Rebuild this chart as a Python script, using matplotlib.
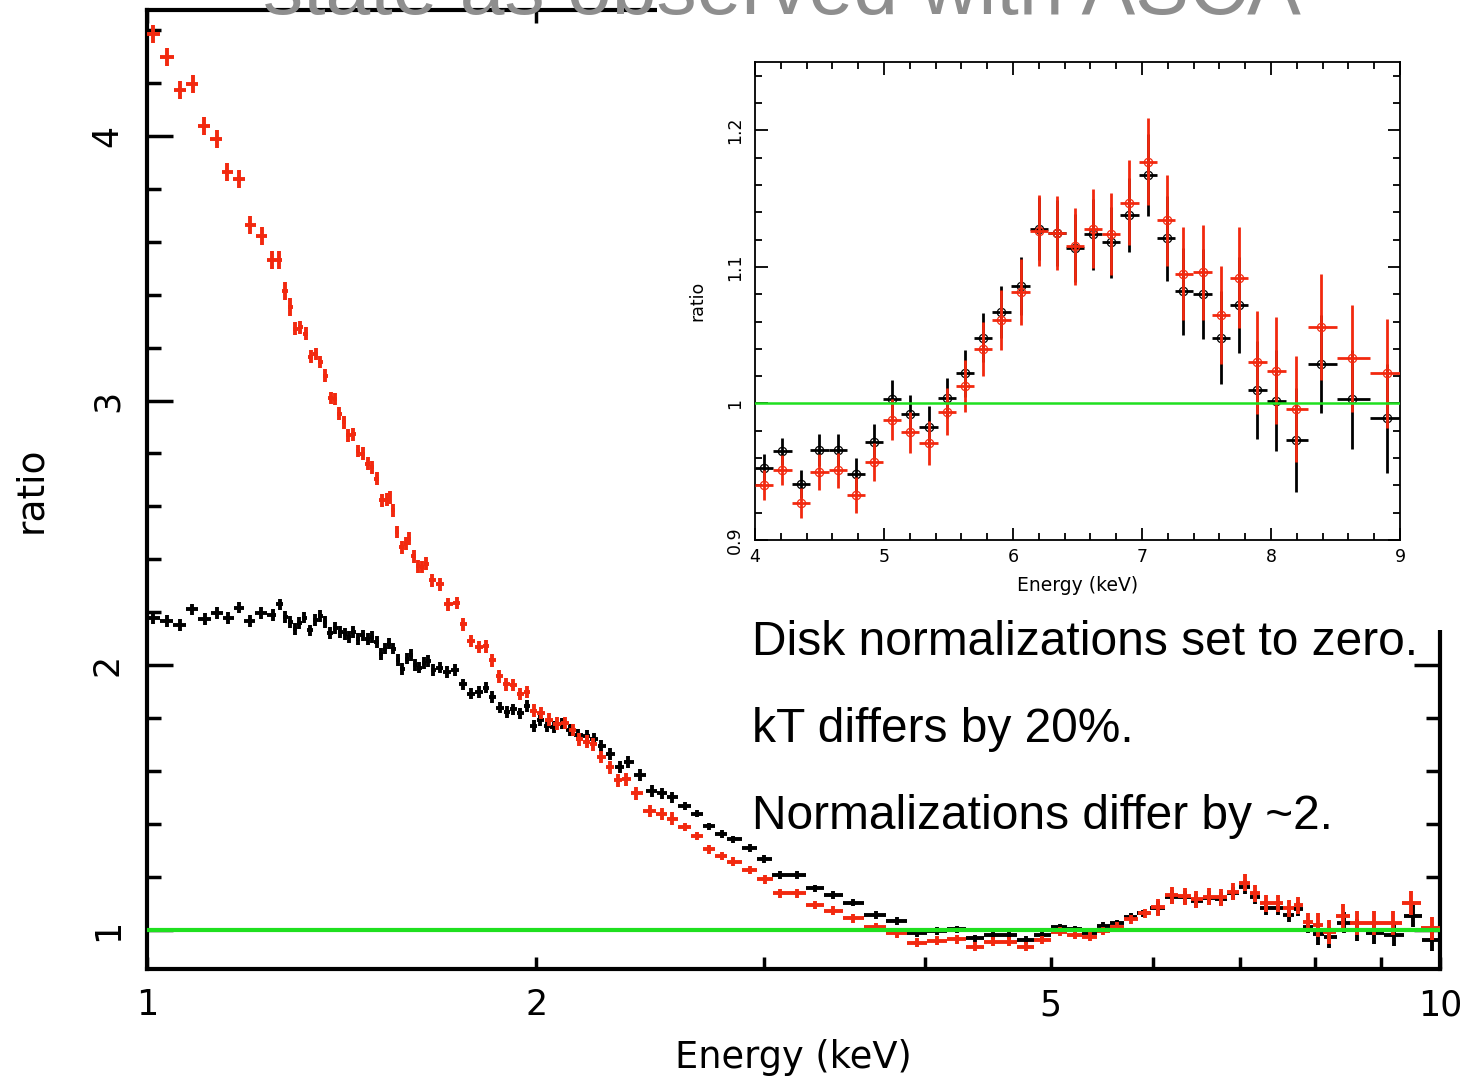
import numpy as np
import matplotlib
matplotlib.use("Agg")
import matplotlib.pyplot as plt
from matplotlib.patches import Rectangle
from matplotlib.ticker import MultipleLocator, NullFormatter, FixedLocator

# ---- main panel: data/model ratio, two states ----
black_energy = [
    1.011, 1.036, 1.060, 1.083, 1.109, 1.132, 1.156, 1.178, 1.201, 1.224,
    1.251, 1.267, 1.279, 1.291, 1.301, 1.312, 1.322, 1.337, 1.349, 1.361,
    1.373, 1.385, 1.398, 1.410, 1.423, 1.434, 1.444, 1.457, 1.468, 1.481,
    1.494, 1.505, 1.516, 1.528, 1.539, 1.550, 1.564, 1.576, 1.588, 1.599,
    1.611, 1.624, 1.637, 1.650, 1.664, 1.684, 1.707, 1.730, 1.755, 1.782,
    1.807, 1.829, 1.850, 1.875, 1.900, 1.920, 1.944, 1.967, 1.991, 2.015,
    2.039, 2.063, 2.093, 2.125, 2.156, 2.188, 2.216, 2.246, 2.282, 2.321,
    2.356, 2.405, 2.458, 2.500, 2.546, 2.606, 2.661, 2.722, 2.782, 2.841,
    2.926, 3.000, 3.089, 3.183, 3.284, 3.393, 3.517, 3.660, 3.804, 3.941,
    4.080, 4.230, 4.370, 4.510, 4.640, 4.780, 4.920, 5.080, 5.220, 5.360,
    5.490, 5.630, 5.770, 5.890, 6.050, 6.200, 6.350, 6.480, 6.630, 6.770,
    6.920, 7.060, 7.190, 7.330, 7.490, 7.640, 7.770, 7.910, 8.050, 8.210,
    8.430, 8.630, 8.890, 9.220, 9.530, 9.850]
black_ratio = [
    2.177, 2.167, 2.151, 2.211, 2.174, 2.197, 2.179, 2.218, 2.167, 2.197,
    2.191, 2.230, 2.182, 2.163, 2.138, 2.160, 2.180, 2.132, 2.172, 2.185,
    2.163, 2.123, 2.142, 2.126, 2.117, 2.107, 2.126, 2.100, 2.113, 2.100,
    2.107, 2.088, 2.042, 2.063, 2.082, 2.063, 2.019, 1.987, 2.025, 2.038,
    2.000, 1.991, 2.008, 2.016, 1.981, 1.991, 1.975, 1.981, 1.928, 1.893,
    1.899, 1.916, 1.881, 1.840, 1.824, 1.833, 1.818, 1.845, 1.770, 1.792,
    1.770, 1.767, 1.780, 1.755, 1.736, 1.732, 1.723, 1.694, 1.664, 1.616,
    1.635, 1.585, 1.526, 1.516, 1.501, 1.468, 1.440, 1.392, 1.362, 1.342,
    1.310, 1.268, 1.208, 1.208, 1.157, 1.132, 1.103, 1.057, 1.034, 0.987,
    0.997, 1.003, 0.969, 0.981, 0.981, 0.962, 0.981, 1.010, 1.003, 0.987,
    1.015, 1.025, 1.050, 1.063, 1.082, 1.126, 1.123, 1.111, 1.120, 1.116,
    1.138, 1.163, 1.123, 1.082, 1.082, 1.057, 1.078, 1.013, 0.985, 0.972,
    1.028, 1.000, 0.987, 0.981, 1.053, 0.962]

red_energy = [
    1.011, 1.037, 1.060, 1.085, 1.107, 1.132, 1.154, 1.179, 1.201, 1.227,
    1.249, 1.266, 1.279, 1.291, 1.301, 1.314, 1.327, 1.339, 1.350, 1.362,
    1.374, 1.387, 1.398, 1.408, 1.420, 1.431, 1.444, 1.457, 1.468, 1.481,
    1.494, 1.505, 1.519, 1.532, 1.541, 1.550, 1.561, 1.574, 1.585, 1.595,
    1.608, 1.621, 1.633, 1.643, 1.662, 1.686, 1.710, 1.736, 1.755, 1.780,
    1.807, 1.830, 1.850, 1.872, 1.895, 1.920, 1.944, 1.967, 1.992, 2.016,
    2.045, 2.074, 2.105, 2.134, 2.159, 2.188, 2.213, 2.246, 2.280, 2.314,
    2.348, 2.390, 2.450, 2.500, 2.546, 2.606, 2.661, 2.722, 2.782, 2.841,
    2.926, 3.005, 3.089, 3.183, 3.284, 3.393, 3.517, 3.660, 3.804, 3.940,
    4.080, 4.230, 4.370, 4.510, 4.640, 4.780, 4.920, 5.080, 5.220, 5.360,
    5.490, 5.630, 5.770, 5.910, 6.050, 6.200, 6.350, 6.480, 6.630, 6.770,
    6.920, 7.060, 7.190, 7.330, 7.490, 7.640, 7.770, 7.910, 8.050, 8.200,
    8.410, 8.630, 8.890, 9.200, 9.500, 9.850]
red_ratio = [
    4.384, 4.296, 4.172, 4.197, 4.038, 3.988, 3.865, 3.836, 3.664, 3.623,
    3.531, 3.531, 3.415, 3.355, 3.271, 3.277, 3.252, 3.166, 3.176, 3.145,
    3.094, 3.010, 3.006, 2.950, 2.918, 2.868, 2.872, 2.809, 2.799, 2.761,
    2.748, 2.705, 2.623, 2.625, 2.635, 2.585, 2.503, 2.446, 2.459, 2.478,
    2.411, 2.374, 2.371, 2.384, 2.321, 2.306, 2.230, 2.235, 2.155, 2.092,
    2.069, 2.072, 2.019, 1.958, 1.928, 1.925, 1.891, 1.899, 1.828, 1.820,
    1.795, 1.780, 1.782, 1.755, 1.720, 1.711, 1.702, 1.654, 1.614, 1.566,
    1.569, 1.516, 1.450, 1.438, 1.421, 1.390, 1.355, 1.305, 1.279, 1.258,
    1.226, 1.191, 1.138, 1.138, 1.094, 1.073, 1.044, 1.010, 0.987, 0.952,
    0.960, 0.965, 0.937, 0.956, 0.956, 0.937, 0.962, 0.994, 0.981, 0.975,
    0.997, 1.013, 1.040, 1.063, 1.086, 1.132, 1.128, 1.116, 1.126, 1.123,
    1.145, 1.179, 1.138, 1.101, 1.101, 1.082, 1.094, 1.031, 1.019, 0.994,
    1.053, 1.028, 1.025, 1.025, 1.101, 1.006]

black_err_edges = [2.6, 6.0, 8.0]
black_err_levels = [0.022, 0.014, 0.026, 0.040]
red_err_edges = [1.3, 2.6, 6.0, 8.0]
red_err_levels = [0.034, 0.024, 0.016, 0.032, 0.045]

# ---- inset: 4-9 keV zoom ----
inset_energy = [4.07, 4.21, 4.36, 4.50, 4.64, 4.78, 4.92, 5.06, 5.20, 5.35,
                5.49, 5.63, 5.77, 5.91, 6.06, 6.20, 6.34, 6.48, 6.62, 6.76,
                6.90, 7.05, 7.19, 7.32, 7.47, 7.61, 7.75, 7.89, 8.04, 8.19,
                8.39, 8.63, 8.90]
inset_black = [0.953, 0.965, 0.941, 0.966, 0.966, 0.948, 0.972, 1.003, 0.992, 0.983,
               1.004, 1.022, 1.048, 1.067, 1.086, 1.128, 1.125, 1.114, 1.124, 1.118,
               1.138, 1.167, 1.121, 1.082, 1.080, 1.048, 1.072, 1.010, 1.002, 0.973,
               1.029, 1.003, 0.989]
inset_black_err = [0.010, 0.010, 0.010, 0.012, 0.012, 0.012, 0.013, 0.014, 0.014, 0.015,
                   0.015, 0.017, 0.018, 0.019, 0.021, 0.023, 0.024, 0.025, 0.026, 0.026,
                   0.027, 0.030, 0.031, 0.032, 0.033, 0.034, 0.035, 0.036, 0.037, 0.038,
                   0.036, 0.036, 0.040]
inset_red = [0.940, 0.951, 0.927, 0.950, 0.951, 0.933, 0.957, 0.988, 0.979, 0.971,
             0.994, 1.0125, 1.040, 1.061, 1.0815, 1.1265, 1.125, 1.115, 1.128, 1.124,
             1.147, 1.177, 1.134, 1.095, 1.096, 1.065, 1.092, 1.030, 1.024, 0.996,
             1.056, 1.033, 1.022]
inset_red_err = [0.011, 0.011, 0.011, 0.013, 0.013, 0.013, 0.014, 0.015, 0.015, 0.016,
                 0.017, 0.019, 0.020, 0.022, 0.024, 0.026, 0.027, 0.028, 0.029, 0.030,
                 0.031, 0.032, 0.033, 0.034, 0.035, 0.036, 0.037, 0.038, 0.039, 0.039,
                 0.039, 0.039, 0.040]

notes = ["Disk normalizations set to zero.",
         "kT differs by 20%.",
         "Normalizations differ by ~2."]
title_text = "state as observed with ASCA"

RED = "#f2290f"
GREEN = "#1fe01f"


def bin_halfwidths(e, log=False):
    e = np.asarray(e, dtype=float)
    v = np.log10(e) if log else e
    mid = (v[1:] + v[:-1]) / 2
    lo = np.concatenate([[v[0] - (mid[0] - v[0])], mid])
    hi = np.concatenate([mid, [v[-1] + (v[-1] - mid[-1])]])
    if log:
        lo, hi = 10 ** lo, 10 ** hi
    return np.vstack([e - lo, hi - e])


def band_err(e, edges, levels):
    idx = np.searchsorted(edges, e)
    return np.asarray(levels)[idx]


fig = plt.figure(figsize=(14.7, 10.79), dpi=100)

# main axes
ax = fig.add_axes([0.100, 0.102, 0.8796, 0.8887])
ax.set_xscale("log")
ax.errorbar(black_energy, black_ratio, xerr=bin_halfwidths(black_energy, log=True),
            yerr=band_err(black_energy, black_err_edges, black_err_levels),
            fmt="none", ecolor="black", elinewidth=2.8, capsize=0, zorder=3)
ax.errorbar(red_energy, red_ratio, xerr=bin_halfwidths(red_energy, log=True),
            yerr=band_err(red_energy, red_err_edges, red_err_levels),
            fmt="none", ecolor=RED, elinewidth=2.8, capsize=0, zorder=4)
ax.axhline(1.0, color=GREEN, lw=3, zorder=5)
ax.set_xlim(1, 10)
ax.set_ylim(0.853, 4.475)

ax.xaxis.set_major_locator(FixedLocator([1, 2, 5, 10]))
ax.set_xticklabels(["1", "2", "5", "10"])
ax.xaxis.set_minor_locator(FixedLocator([3, 4, 6, 7, 8, 9]))
ax.xaxis.set_minor_formatter(NullFormatter())
ax.yaxis.set_major_locator(MultipleLocator(1))
ax.yaxis.set_minor_locator(MultipleLocator(0.2))
ax.tick_params(which="both", direction="in", top=True, right=True, width=2.5)
ax.tick_params(axis="x", which="both", length=9, labelsize=25, pad=14)
ax.tick_params(axis="y", which="major", length=19, labelsize=25, pad=16)
ax.tick_params(axis="y", which="minor", length=10)
for lab in ax.get_yticklabels():
    lab.set_rotation(90)
    lab.set_va("center")
for s in ax.spines.values():
    s.set_linewidth(3)
ax.set_xlabel("Energy (keV)", fontsize=26.5, labelpad=12)
ax.set_ylabel("ratio", fontsize=27, labelpad=30)

# white area behind the inset hides the main frame in the upper right
fig.add_artist(Rectangle((0.447, 0.416), 0.6, 0.6, transform=fig.transFigure,
                         facecolor="white", edgecolor="none", zorder=1))

# inset axes
ins = fig.add_axes([0.5136, 0.4995, 0.4388, 0.443])
ins.set_zorder(2)
ins.errorbar(inset_energy, inset_black, xerr=bin_halfwidths(inset_energy),
             yerr=inset_black_err, fmt="o", ms=6, mfc="none", mec="black", mew=0.9,
             ecolor="black", elinewidth=2.0, capsize=0, zorder=3)
ins.errorbar(inset_energy, inset_red, xerr=bin_halfwidths(inset_energy),
             yerr=inset_red_err, fmt="o", ms=6, mfc="none", mec=RED, mew=0.9,
             ecolor=RED, elinewidth=2.0, capsize=0, zorder=4)
ins.axhline(1.0, color=GREEN, lw=1.8, zorder=5)
ins.set_xlim(4, 9)
ins.set_ylim(0.9, 1.25)
ins.xaxis.set_major_locator(MultipleLocator(1))
ins.xaxis.set_minor_locator(MultipleLocator(0.2))
ins.yaxis.set_major_locator(MultipleLocator(0.1))
ins.yaxis.set_minor_locator(MultipleLocator(0.02))
ins.yaxis.set_major_formatter(plt.FuncFormatter(lambda v, p: f"{v:g}"))
ins.tick_params(which="both", direction="in", top=True, right=True, width=1.3,
                labelsize=12.5)
ins.tick_params(which="major", length=9)
ins.tick_params(which="minor", length=5)
ins.tick_params(axis="x", pad=6)
ins.tick_params(axis="y", pad=8)
for lab in ins.get_yticklabels():
    lab.set_rotation(90)
    lab.set_va("center")
for s in ins.spines.values():
    s.set_linewidth(1.3)
ins.set_xlabel("Energy (keV)", fontsize=13.5, labelpad=7)
ins.set_ylabel("ratio", fontsize=12.5, labelpad=14)

# annotations
note_y = [0.405, 0.324, 0.243]
for txt, y in zip(notes, note_y):
    fig.text(0.5116, y, txt, fontsize=34.5, family="Liberation Sans",
             va="center", ha="left", zorder=3)

# slide title, cut off by the top of the image (as in the source slide)
fig.text(0.532, 0.987, title_text, fontsize=58, family="Liberation Sans",
         color="#8e8e8e", ha="center", va="baseline", zorder=3)

fig.savefig("out.png", dpi=100, facecolor="white")
